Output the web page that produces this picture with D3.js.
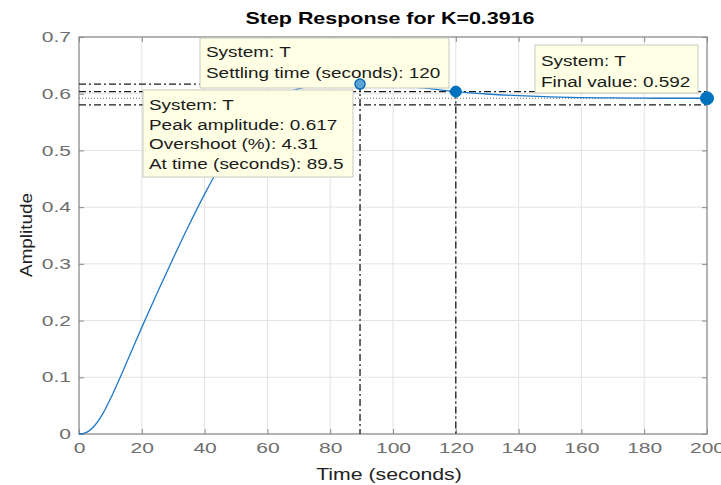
<!DOCTYPE html>
<html>
<head>
<meta charset="utf-8">
<script src="https://d3js.org/d3.v7.min.js"></script>
<style>
  html, body { margin: 0; padding: 0; background: #ffffff; }
  svg { display: block; font-family: "Liberation Sans", Arial, Helvetica, sans-serif; }
</style>
</head>
<body>
<svg id="chart" width="721" height="485"></svg>
<script>
// ---- data ----
const titleText = "Step Response for K=0.3916";
const xLabelText = "Time (seconds)";
const yLabelText = "Amplitude";
const xTicks = [0, 20, 40, 60, 80, 100, 120, 140, 160, 180, 200];
const yTicks = [0, 0.1, 0.2, 0.3, 0.4, 0.5, 0.6, 0.7];
const timeValues = [0, 2, 5, 8, 10, 15, 20, 25, 30, 35, 40, 45, 50, 55, 60, 65, 70, 75, 80, 85, 89.5, 95, 100, 110, 120, 130, 140, 150, 160, 170, 180, 190, 200];
const ampValues  = [0, 0.002, 0.015, 0.04, 0.062, 0.124, 0.188, 0.25, 0.31, 0.368, 0.423, 0.473, 0.517, 0.553, 0.58, 0.598, 0.609, 0.6145, 0.616, 0.6168, 0.617, 0.6165, 0.615, 0.6098, 0.6037, 0.5995, 0.5965, 0.5945, 0.5932, 0.5925, 0.5921, 0.592, 0.592];
const peakTime = 89.5, peakAmp = 0.617, overshoot = 4.31;
const settleTime = 120, settleAmp = 0.6037;
const finalTime = 200, finalValue = 0.592;
const bandUpper = 0.6037, bandLower = 0.5802;
const tipSettle = ["System: T", "Settling time (seconds): 120"];
const tipPeak = ["System: T", "Peak amplitude: 0.617", "Overshoot (%): 4.31", "At time (seconds): 89.5"];
const tipFinal = ["System: T", "Final value: 0.592"];

// ---- layout ----
const svg = d3.select("#chart");
const L = 79, R = 707, T = 37, B = 434;
const x = d3.scaleLinear().domain([0, 200]).range([L, R]);
const y = d3.scaleLinear().domain([0, 0.7]).range([B, T]);

function stretch(sel, k) {
  sel.each(function () {
    const len = this.getComputedTextLength();
    if (len > 0) {
      this.setAttribute("textLength", len * k);
      this.setAttribute("lengthAdjust", "spacingAndGlyphs");
    }
  });
}

// grid
const grid = svg.append("g");
grid.selectAll("line.gx").data(xTicks.slice(1, -1)).join("line")
  .attr("x1", d => x(d)).attr("x2", d => x(d)).attr("y1", T).attr("y2", B)
  .attr("stroke", "#e3e3e3").attr("stroke-width", 1);
grid.selectAll("line.gy").data(yTicks.slice(1, -1)).join("line")
  .attr("x1", L).attr("x2", R).attr("y1", d => y(d)).attr("y2", d => y(d))
  .attr("stroke", "#e3e3e3").attr("stroke-width", 1);

// axes
const axisColor = "#8a8a8a";
const gx = svg.append("g").attr("transform", `translate(0,${B})`)
  .call(d3.axisBottom(x).tickValues(xTicks).tickSizeInner(-5).tickSizeOuter(0).tickPadding(9));
const gxTop = svg.append("g").attr("transform", `translate(0,${T})`)
  .call(d3.axisTop(x).tickValues(xTicks).tickSizeInner(-5).tickSizeOuter(0).tickFormat(""));
const gy = svg.append("g").attr("transform", `translate(${L},0)`)
  .call(d3.axisLeft(y).tickValues(yTicks).tickSizeInner(-5).tickSizeOuter(0).tickPadding(8).tickFormat(d => d === 0 ? "0" : d3.format(".1f")(d)));
const gyRight = svg.append("g").attr("transform", `translate(${R},0)`)
  .call(d3.axisRight(y).tickValues(yTicks).tickSizeInner(-5).tickSizeOuter(0).tickFormat(""));
[gx, gxTop, gy, gyRight].forEach(g => {
  g.select(".domain").remove();
  g.selectAll(".tick line").attr("stroke", axisColor);
  g.selectAll(".tick text").attr("fill", "#6e6e6e").style("font-size", "14.5px")
    .style("font-family", '"Liberation Sans", Arial, sans-serif');
});
svg.append("rect").attr("x", L).attr("y", T).attr("width", R - L).attr("height", B - T)
  .attr("fill", "none").attr("stroke", axisColor).attr("stroke-width", 1.3);

// characteristic lines
const dashDot = "7,3,2,3";
const lineCol = "#1a1a1a";
svg.append("line").attr("x1", x(0)).attr("x2", x(peakTime)).attr("y1", y(peakAmp)).attr("y2", y(peakAmp))
  .attr("stroke", lineCol).attr("stroke-width", 1.3).attr("stroke-dasharray", dashDot);
svg.append("line").attr("x1", x(peakTime)).attr("x2", x(peakTime)).attr("y1", y(peakAmp)).attr("y2", y(0))
  .attr("stroke", lineCol).attr("stroke-width", 1.3).attr("stroke-dasharray", dashDot);
[bandUpper, bandLower].forEach(v => {
  svg.append("line").attr("x1", x(0)).attr("x2", x(200)).attr("y1", y(v)).attr("y2", y(v))
    .attr("stroke", lineCol).attr("stroke-width", 1.3).attr("stroke-dasharray", dashDot);
});
svg.append("line").attr("x1", x(settleTime)).attr("x2", x(settleTime)).attr("y1", y(settleAmp)).attr("y2", y(0))
  .attr("stroke", lineCol).attr("stroke-width", 1.3).attr("stroke-dasharray", dashDot);
svg.append("line").attr("x1", x(0)).attr("x2", x(200)).attr("y1", y(finalValue)).attr("y2", y(finalValue))
  .attr("stroke", "#707070").attr("stroke-width", 1.1).attr("stroke-dasharray", "1,2");

// response curve
const pts = timeValues.map((t, i) => [t, ampValues[i]]);
svg.append("path").datum(pts)
  .attr("d", d3.line().x(d => x(d[0])).y(d => y(d[1])).curve(d3.curveMonotoneX))
  .attr("fill", "none").attr("stroke", "#1f78c8").attr("stroke-width", 1.3);

// datatips
function tip(lines, bx, by, bw, bh, tx, ty0, dy) {
  const g = svg.append("g");
  g.append("rect").attr("x", bx).attr("y", by).attr("width", bw).attr("height", bh)
    .attr("fill", "#ffffe6").attr("stroke", "#c9c9c0").attr("stroke-width", 1);
  const t = g.selectAll("text").data(lines).join("text")
    .attr("x", tx).attr("y", (d, i) => ty0 + i * dy)
    .attr("fill", "#1a1a1a").style("font-size", "15.5px").text(d => d);
  stretch(t, 1.22);
}
tip(tipSettle, 200, 38, 249, 50, 206, 57, 20.5);

// markers (settling & peak)
svg.append("circle").attr("cx", x(settleTime)).attr("cy", y(settleAmp)).attr("r", 5.5)
  .attr("fill", "#0072bd").attr("stroke", "#0072bd");
svg.append("circle").attr("cx", x(peakTime)).attr("cy", y(peakAmp)).attr("r", 5)
  .attr("fill", "#5fa4d8").attr("stroke", "#0a6db5").attr("stroke-width", 1.5);

tip(tipPeak, 143, 90, 210, 87, 149, 110, 19.5);
tip(tipFinal, 535, 45, 163, 48, 541, 66, 20.5);

svg.append("circle").attr("cx", x(finalTime)).attr("cy", y(finalValue)).attr("r", 6.5)
  .attr("fill", "#0072bd").attr("stroke", "#0072bd");

// tick label stretching
stretch(gx.selectAll(".tick text"), 1.45);
stretch(gy.selectAll(".tick text"), 1.45);

// title & labels
const title = svg.append("text").attr("x", (L + R) / 2 - 3).attr("y", 24).attr("text-anchor", "middle")
  .attr("fill", "#000").style("font-size", "16.5px").style("font-weight", "bold").text(titleText);
stretch(title, 1.3);
const xl = svg.append("text").attr("x", (L + R) / 2 - 4).attr("y", 480).attr("text-anchor", "middle")
  .attr("fill", "#222").style("font-size", "17px").text(xLabelText);
stretch(xl, 1.25);
const yl = svg.append("text").attr("transform", `translate(32,235) rotate(-90)`).attr("text-anchor", "middle")
  .attr("fill", "#222").style("font-size", "16px").text(yLabelText);
stretch(yl, 1.18);
</script>
</body>
</html>
